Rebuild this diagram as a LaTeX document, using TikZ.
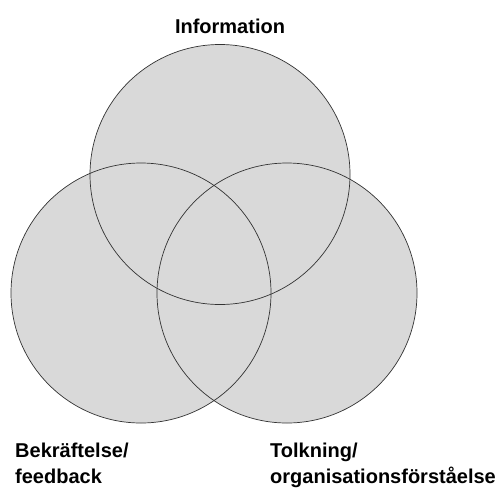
\documentclass[tikz,border=0pt]{standalone}
\usepackage{fontspec}
\setmainfont{Liberation Sans}
\usetikzlibrary{positioning,backgrounds}

\begin{document}
\begin{tikzpicture}[x=1pt, y=-1pt,
    venn/.style={draw=black!80, line width=0.7pt, circle, minimum size=260pt, inner sep=0pt},
    vennfill/.style={fill=black!15},
    label/.style={font=\fontsize{20}{26}\selectfont\bfseries, align=left, inner sep=0pt}]

    \useasboundingbox (0,0) rectangle (502,488);

    % Circles
    \node[venn] (info) at (220,174.5) {};
    \node[venn] (bekr) at (141,293) {};
    \node[venn] (tolk) at (287,293) {};

    % Grey fill under all outlines
    \begin{scope}[on background layer]
        \foreach \c in {info,bekr,tolk}
            \fill[vennfill] (\c.center) circle (130);
    \end{scope}

    % Labels
    \node[label, anchor=base] (infolabel) at (230,33) {Information};
    \node[label, anchor=north west] (bekrlabel) at (15,442.5) {Bekräftelse/\\feedback};
    \node[label, anchor=north west] (tolklabel) at (270,442.5) {Tolkning/\\organisationsförståelse};
\end{tikzpicture}
\end{document}
